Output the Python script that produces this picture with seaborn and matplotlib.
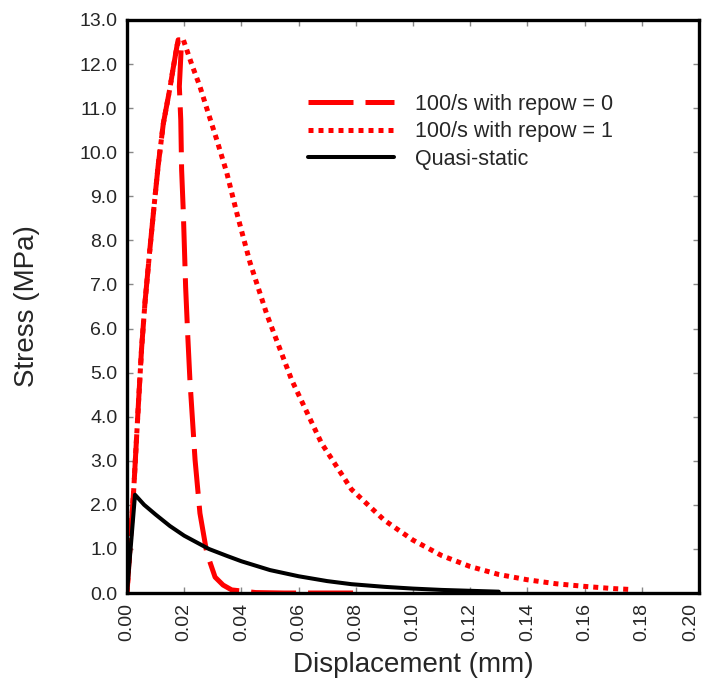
import matplotlib
matplotlib.use("Agg")
import matplotlib.pyplot as plt
import seaborn as sns
import pandas as pd

sns.set_theme(style="white")
plt.rcParams['font.family'] = ['Liberation Sans', 'DejaVu Sans']

# 100/s with repow = 0 (dashed)
disp_r0 = [0.0, 0.0012, 0.0024, 0.0040, 0.0051, 0.0063, 0.0080, 0.0095, 0.0109, 0.0127, 0.0150, 0.0160, 0.0168,
           0.0175, 0.0179,
           0.0191, 0.0183, 0.0188, 0.0191, 0.0197, 0.0205, 0.0212, 0.0220, 0.0238, 0.0255, 0.0279,
           0.0308, 0.0336, 0.0366, 0.045, 0.055, 0.065, 0.080]
stress_r0 = [0.0, 1.2, 2.4, 4.3, 5.55, 6.6, 7.8, 8.8, 9.7, 10.65, 11.45, 11.85, 12.15,
             12.42, 12.55,
             12.55, 11.49, 10.73, 9.6, 8.62, 6.94, 5.9, 4.83, 3.02, 1.81, 0.91,
             0.36, 0.18, 0.07, 0.01, 0.0, 0.0, 0.0]

# 100/s with repow = 1 (dotted)
disp_r1 = [0.0, 0.0012, 0.0024, 0.0040, 0.0051, 0.0063, 0.0080, 0.0095, 0.0109, 0.0127, 0.0150, 0.0160, 0.0168,
           0.0175, 0.0181,
           0.0197, 0.0226, 0.0255, 0.0284, 0.0314, 0.0349, 0.0384, 0.0430, 0.0490, 0.0576, 0.0680, 0.0785,
           0.090, 0.100, 0.110, 0.120, 0.130, 0.140, 0.150, 0.160, 0.170, 0.176]
stress_r1 = [0.0, 1.2, 2.4, 4.3, 5.55, 6.6, 7.8, 8.8, 9.7, 10.65, 11.45, 11.85, 12.15,
             12.42, 12.52,
             12.55, 12.0, 11.49, 10.89, 10.28, 9.53, 8.62, 7.5, 6.3, 4.83, 3.4, 2.35,
             1.65, 1.2, 0.85, 0.6, 0.42, 0.3, 0.21, 0.15, 0.1, 0.08]

# Quasi-static (solid)
disp_qs = [0.0, 0.0028, 0.0060, 0.010, 0.015, 0.020, 0.0286, 0.035, 0.040, 0.050, 0.060,
           0.070, 0.0785, 0.090, 0.100, 0.110, 0.120, 0.130]
stress_qs = [0.0, 2.23, 2.0, 1.78, 1.52, 1.3, 1.0, 0.84, 0.72, 0.52, 0.38,
             0.27, 0.2, 0.14, 0.1, 0.07, 0.05, 0.03]

labels = ["100/s with repow = 0", "100/s with repow = 1", "Quasi-static"]

frames = []
for lab, d, s in zip(labels, [disp_r0, disp_r1, disp_qs], [stress_r0, stress_r1, stress_qs]):
    frames.append(pd.DataFrame({"disp": d, "stress": s, "series": lab}))
df = pd.concat(frames, ignore_index=True)

fig = plt.figure(figsize=(7.04, 6.96), dpi=100)
ax = fig.add_axes([127 / 704, 1 - 593 / 696, (699 - 127) / 704, (593 - 20) / 696])

styles = {
    labels[0]: dict(color="#ff0000", linestyle=(0, (9, 2.4)), lw=3.6),
    labels[1]: dict(color="#ff0000", linestyle=(0, (1, 1)), lw=3.6),
    labels[2]: dict(color="black", linestyle="-", lw=2.9),
}
for lab in labels:
    sub = df[df["series"] == lab]
    st = styles[lab]
    sns.lineplot(data=sub, x="disp", y="stress", ax=ax, color=st["color"],
                 linestyle=st["linestyle"], linewidth=st["lw"], label=lab,
                 sort=False, estimator=None)

ax.set_xlim(0, 0.20)
ax.set_ylim(0, 13)
xt = [i * 0.02 for i in range(11)]
ax.set_xticks(xt)
xlabels = ax.set_xticklabels([f"{v:.2f}" for v in xt], rotation=90, fontsize=14)
xlabels[-1].set_horizontalalignment("right")
yt = list(range(14))
ax.set_yticks(yt)
ax.set_yticklabels([f"{v:.1f}" for v in yt], fontsize=14)
ax.tick_params(direction="in", length=4, width=1, color="#888888",
               top=True, right=True, bottom=True, left=True, pad=7)
for sp in ax.spines.values():
    sp.set_visible(True)
    sp.set_color("black")
    sp.set_linewidth(2.4)

ax.set_xlabel("Displacement (mm)", fontsize=20, labelpad=8)
ax.set_ylabel("Stress (MPa)", fontsize=20, labelpad=28)

leg = ax.legend(loc="upper left", bbox_to_anchor=(0.282, 0.905), frameon=False,
                fontsize=15.5, handlelength=4.0, handletextpad=1.0, labelspacing=0.3)

fig.savefig("out.png", dpi=100, facecolor="white")
